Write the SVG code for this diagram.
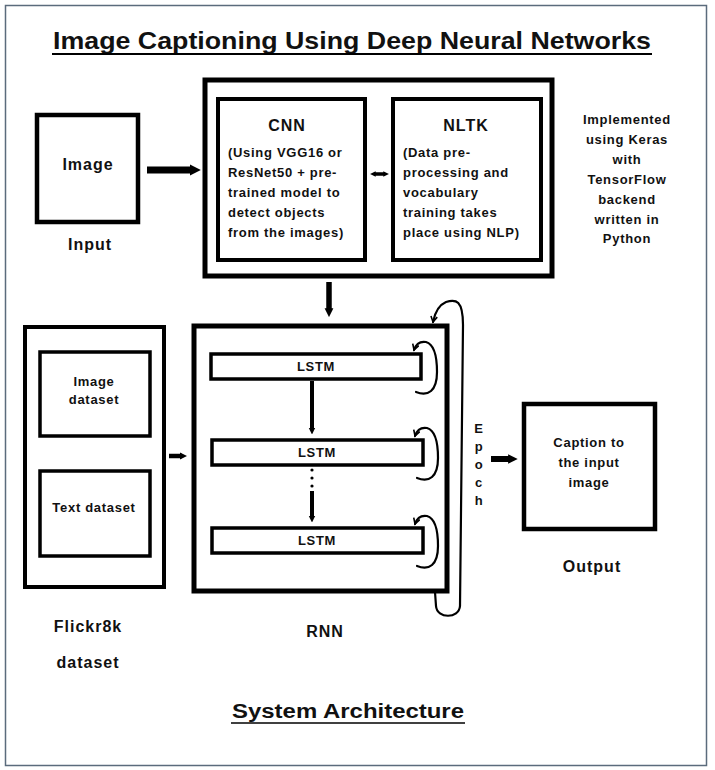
<svg xmlns="http://www.w3.org/2000/svg" width="715" height="770" viewBox="0 0 715 770">
<style>
text{font-family:"Liberation Sans","DejaVu Sans",Arial,sans-serif;font-weight:bold;fill:#111;}
.box{fill:#fff;stroke:#000;}
.t16{font-size:16px;text-anchor:middle;letter-spacing:1px;}
.t13{font-size:13px;letter-spacing:0.7px;}
.c{text-anchor:middle;}
.thick{stroke:#000;fill:none;}
.loop{fill:none;stroke:#000;stroke-width:2.2;stroke-linecap:round;}
</style>
<defs>
<marker id="ah" viewBox="0 0 10 10" refX="3" refY="5" markerWidth="1.6" markerHeight="2" orient="auto-start-reverse" markerUnits="strokeWidth">
<path d="M0,0 L10,5 L0,10 z" fill="#000"/>
</marker>
<marker id="open" viewBox="0 0 10 10" refX="8" refY="5" markerWidth="8" markerHeight="8" orient="auto" markerUnits="userSpaceOnUse">
<path d="M1,1 L8,5 L1,9" fill="none" stroke="#000" stroke-width="2"/>
</marker>
</defs>
<rect x="0" y="0" width="715" height="770" fill="#fff"/>
<rect x="5.5" y="5.5" width="701" height="760" fill="none" stroke="#5b6b7c" stroke-width="1.5"/>

<g id="title">
<text x="352" y="49" font-size="24" text-anchor="middle" textLength="598" lengthAdjust="spacingAndGlyphs">Image Captioning Using Deep Neural Networks</text>
<line x1="52" y1="54" x2="652" y2="54" stroke="#000" stroke-width="1.8"/>
</g>

<g id="input">
<rect class="box" x="37" y="115" width="101" height="107" stroke-width="4.5"/>
<text class="t16" x="88" y="170">Image</text>
<text class="t16" x="90" y="250">Input</text>
</g>

<g id="feature-block">
<rect class="box" x="205" y="80" width="347" height="196" stroke-width="5"/>
</g>

<g id="cnn">
<rect class="box" x="218" y="99" width="147" height="161" stroke-width="4"/>
<text class="t16" x="287" y="131">CNN</text>
<text class="t13" x="228" y="157">(Using VGG16 or</text>
<text class="t13" x="228" y="177">ResNet50 + pre-</text>
<text class="t13" x="228" y="197">trained model to</text>
<text class="t13" x="228" y="217">detect objects</text>
<text class="t13" x="228" y="237">from the images)</text>
</g>

<g id="nltk">
<rect class="box" x="393" y="99" width="148" height="161" stroke-width="4"/>
<text class="t16" x="466" y="131">NLTK</text>
<text class="t13" x="403" y="157">(Data pre-</text>
<text class="t13" x="403" y="177">processing and</text>
<text class="t13" x="403" y="197">vocabulary</text>
<text class="t13" x="403" y="217">training takes</text>
<text class="t13" x="403" y="237">place using NLP)</text>
</g>

<g id="implementation-note">
<text class="t13 c" x="627" y="124">Implemented</text>
<text class="t13 c" x="627" y="144">using Keras</text>
<text class="t13 c" x="627" y="164">with</text>
<text class="t13 c" x="627" y="184">TensorFlow</text>
<text class="t13 c" x="627" y="204">backend</text>
<text class="t13 c" x="627" y="224">written in</text>
<text class="t13 c" x="627" y="243">Python</text>
</g>

<g id="flickr8k">
<rect class="box" x="25" y="327" width="139" height="260" stroke-width="4"/>
<rect class="box" x="40" y="352" width="110" height="84" stroke-width="3.5"/>
<text class="t13 c" x="94" y="386">Image</text>
<text class="t13 c" x="94" y="404">dataset</text>
<rect class="box" x="40" y="471" width="110" height="85" stroke-width="3.5"/>
<text class="t13 c" x="94" y="512">Text dataset</text>
<text class="t16" x="88" y="632">Flickr8k</text>
<text class="t16" x="88" y="668">dataset</text>
</g>

<g id="rnn">
<rect class="box" x="194" y="326" width="253" height="265" stroke-width="5"/>
<text class="t16" x="325" y="637">RNN</text>
</g>

<g id="lstm1">
<rect class="box" x="211" y="354" width="210" height="25" stroke-width="3.5"/>
<text class="t13 c" x="316" y="371">LSTM</text>
</g>
<g id="lstm2">
<rect class="box" x="212" y="440" width="211" height="25" stroke-width="3.5"/>
<text class="t13 c" x="317" y="457">LSTM</text>
</g>
<g id="lstm3">
<rect class="box" x="212" y="528" width="211" height="25" stroke-width="3.5"/>
<text class="t13 c" x="317" y="545">LSTM</text>
</g>

<g id="output">
<rect class="box" x="524" y="404" width="131" height="125" stroke-width="4.5"/>
<text class="t13 c" x="589" y="447">Caption to</text>
<text class="t13 c" x="589" y="467">the input</text>
<text class="t13 c" x="589" y="487">image</text>
<text class="t16" x="592" y="572">Output</text>
</g>

<g id="epoch-label">
<text class="t13 c" x="479" y="433">E</text>
<text class="t13 c" x="479" y="451">p</text>
<text class="t13 c" x="479" y="469">o</text>
<text class="t13 c" x="479" y="487">c</text>
<text class="t13 c" x="479" y="505">h</text>
</g>

<g id="footer">
<text x="348" y="718" font-size="20" text-anchor="middle" textLength="232" lengthAdjust="spacingAndGlyphs">System Architecture</text>
<line x1="231" y1="723" x2="465" y2="723" stroke="#000" stroke-width="1.6"/>
</g>

<g id="connectors">
<line class="thick" x1="147" y1="170" x2="193" y2="170" stroke-width="7" marker-end="url(#ah)"/>
<line class="thick" x1="374" y1="174" x2="385" y2="174" stroke-width="3.5" marker-start="url(#ah)" marker-end="url(#ah)"/>
<line class="thick" x1="329" y1="282" x2="329" y2="311" stroke-width="5.5" marker-end="url(#ah)"/>
<line class="thick" x1="169" y1="456" x2="182" y2="456" stroke-width="4.5" marker-end="url(#ah)"/>
<line class="thick" x1="312" y1="381" x2="312" y2="430" stroke-width="4" marker-end="url(#ah)"/>
<g fill="#000"><circle cx="312" cy="470" r="1.6"/><circle cx="312" cy="478" r="1.6"/><circle cx="312" cy="486" r="1.6"/></g>
<line class="thick" x1="312" y1="491" x2="312" y2="518" stroke-width="4" marker-end="url(#ah)"/>
<line class="thick" x1="491" y1="459" x2="511" y2="459" stroke-width="6" marker-end="url(#ah)"/>
<path id="self-loop" class="loop" d="M416,392 C428,397 437,391 437,372 C437,352 433,344 426,342 C420,341 416,344 414,350" marker-end="url(#open)"/>
<path class="loop" transform="translate(1,86)" d="M416,392 C428,397 437,391 437,372 C437,352 433,344 426,342 C420,341 416,344 414,350" marker-end="url(#open)"/>
<path class="loop" transform="translate(1,174)" d="M416,392 C428,397 437,391 437,372 C437,352 433,344 426,342 C420,341 416,344 414,350" marker-end="url(#open)"/>
<path class="loop" d="M435,592 L436,606 C437,619 459,619 460,606 L463,325 C463,300 456,299 446,302 C439,305 435,312 433,322" marker-end="url(#open)"/>
</g>
</svg>
